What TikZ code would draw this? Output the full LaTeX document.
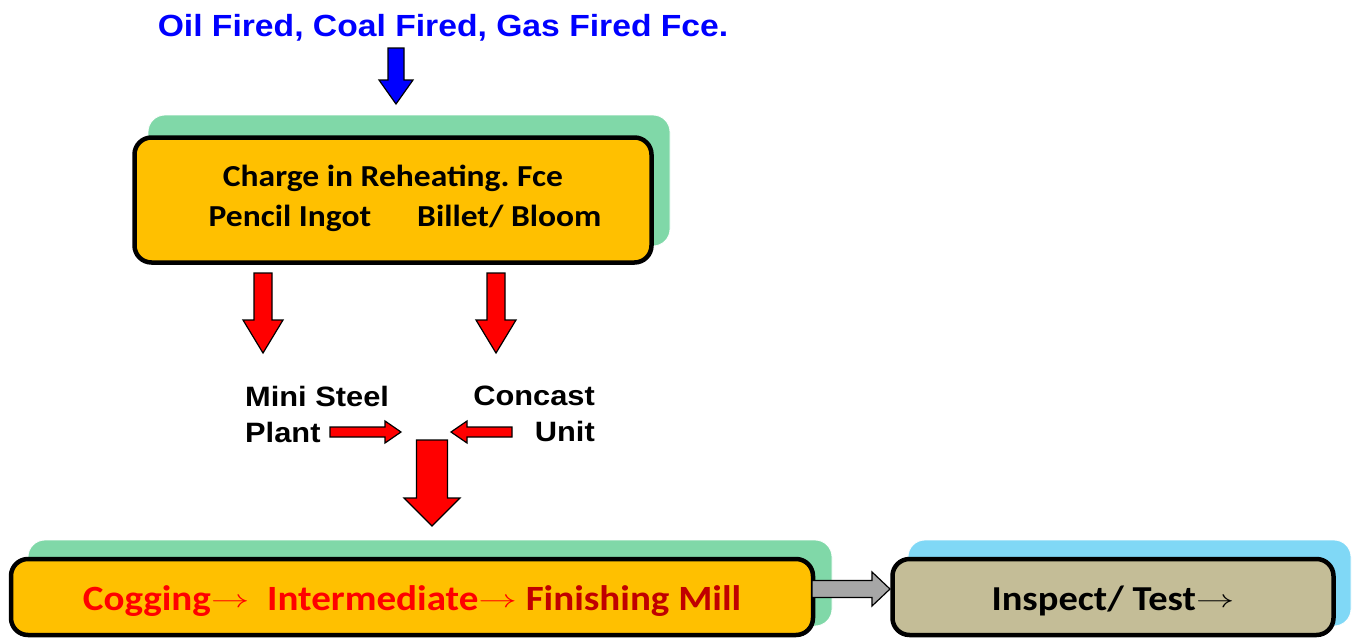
\documentclass[tikz,border=0pt]{standalone}
\usepackage{fontspec}
\setmainfont{Carlito}[FakeStretch=1.1]
\newfontfamily\headfont{Liberation Sans}[FakeStretch=1.1]
\frenchspacing
\usetikzlibrary{calc}

\definecolor{boxorange}{RGB}{255,192,0}
\definecolor{shadegreen}{RGB}{128,216,168}
\definecolor{shadeblue}{RGB}{128,216,246}
\definecolor{boxtan}{RGB}{196,189,151}
\definecolor{millred}{RGB}{255,0,0}
\definecolor{darkmill}{RGB}{192,0,0}
\definecolor{arrowgray}{RGB}{166,166,166}
\definecolor{fireblue}{RGB}{0,0,255}

\tikzset{
  procbox/.style={draw=black, line width=4.5pt, rounded corners=17pt, inner sep=0pt},
  shadebox/.style={rounded corners=17pt, draw=white, line width=0.8pt},
  blockarrow/.style={draw=black, line width=1.2pt, line join=miter},
  headtext/.style={font=\headfont\bfseries, inner sep=0pt},
}

% thin arrow used inside the process labels
\newcommand\flowto{\raisebox{3pt}{\scalebox{1.55}[1]{$\rightarrow$}}}
% shift a label vertically without changing the size the node sees
\newcommand\nudge[2]{\raisebox{#1}[\height][\depth]{#2}}

% downward block arrow: fill, centre x, top y, tip y, half shaft, half head, head length
\newcommand\downblock[7]{%
  \filldraw[blockarrow, fill=#1]
    ({#2-#5},{#3}) -- ({#2+#5},{#3}) -- ({#2+#5},{#4-#7}) -- ({#2+#6},{#4-#7})
    -- ({#2},{#4}) -- ({#2-#6},{#4-#7}) -- ({#2-#5},{#4-#7}) -- cycle;}
% horizontal block arrow: fill, centre y, tail x, tip x, half shaft, half head, signed head length
\newcommand\sideblock[7]{%
  \filldraw[blockarrow, fill=#1]
    ({#3},{#2-#5}) -- ({#4-(#7)},{#2-#5}) -- ({#4-(#7)},{#2-#6}) -- ({#4},{#2})
    -- ({#4-(#7)},{#2+#6}) -- ({#4-(#7)},{#2+#5}) -- ({#3},{#2+#5}) -- cycle;}

\begin{document}
\begin{tikzpicture}[x=1pt, y=-1pt]
  \useasboundingbox (0,0) rectangle (1353,638);
  \clip (0,0) rectangle (1353,638);

  % fuel source and feed arrow
  \node[headtext, text=fireblue, font=\headfont\bfseries\fontsize{30.6}{36}\selectfont]
    (fuel) at (443,28) {Oil Fired, Coal Fired, Gas Fired Fce.};
  \downblock{fireblue}{396}{48}{104}{8}{17}{24}

  % reheating furnace
  \fill[shadegreen, shadebox] (148,115) rectangle (670,246);
  \node[procbox, fill=boxorange, minimum width=517pt, minimum height=125pt,
        align=center, font=\bfseries\fontsize{30.5}{40}\selectfont]
    (charge) at (393,200)
    {\nudge{2pt}{Charge in Reheating. Fce}\\
     \nudge{2pt}{\hspace*{24pt}Pencil Ingot\hspace{46pt}Billet/ Bloom}};

  % branches to the two routes
  \downblock{red}{263}{273}{353}{9}{20}{33}
  \downblock{red}{496}{273}{353}{9}{20}{33}

  \node[headtext, anchor=west, align=left, font=\headfont\bfseries\fontsize{28}{36}\selectfont]
    (mini) at (245,414) {Mini Steel\\Plant};
  \node[headtext, anchor=east, align=right, font=\headfont\bfseries\fontsize{28}{36}\selectfont]
    (concast) at (595,414) {Concast\\Unit};

  \sideblock{red}{432}{330}{401}{5}{11}{16}
  \sideblock{red}{432}{512}{451}{5}{11}{-16}
  \downblock{red}{432}{440}{526}{15.5}{28}{28}

  % rolling mill
  \fill[shadegreen, shadebox] (28,540) rectangle (832,626);
  \node[procbox, fill=boxorange, minimum width=802pt, minimum height=76pt,
        font=\bfseries\fontsize{35.5}{40}\selectfont]
    (mill) at (412,597)
    {\nudge{-4pt}{\textcolor{millred}{Cogging\flowto\ \ Intermediate\flowto}\
     \textcolor{darkmill}{Finishing Mill}}};

  % inspection
  \fill[shadeblue, shadebox] (908,540) rectangle (1351,626);
  \sideblock{arrowgray}{589}{812}{890}{8.5}{17}{18}
  \node[procbox, fill=boxtan, minimum width=441pt, minimum height=76pt,
        font=\bfseries\fontsize{35}{40}\selectfont]
    (inspect) at (1113,597) {\nudge{-4pt}{Inspect/ Test\flowto}};
\end{tikzpicture}
\end{document}
